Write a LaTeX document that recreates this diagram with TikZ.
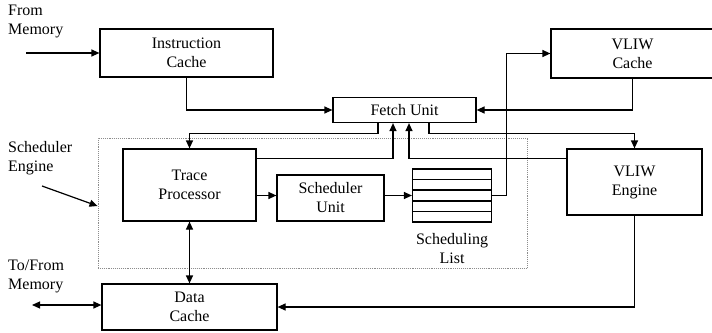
\documentclass[tikz,border=0pt]{standalone}
\usepackage{fontspec}
\setmainfont{Liberation Serif}
\usetikzlibrary{positioning, arrows.meta, calc}

\begin{document}
\begin{tikzpicture}[
    x=1pt, y=-1pt,
    every node/.style={font=\fontsize{16}{19}\selectfont},
    unitbox/.style={
        rectangle,
        draw=black,
        line width=1.2pt,
        align=center,
        inner sep=0pt
    },
    listbox/.style={
        rectangle,
        draw=black,
        line width=1.2pt,
        minimum width=79pt,
        minimum height=53pt,
        inner sep=0pt
    },
    enginebox/.style={
        rectangle,
        draw=black!45,
        densely dotted,
        line width=0.9pt,
        inner sep=0pt
    },
    lbl/.style={
        align=left,
        inner sep=0pt,
        anchor=north west
    },
    arrow/.style={-{Triangle[length=8pt,width=7pt]}, line width=1.2pt},
    dblarrow/.style={{Triangle[length=8pt,width=7pt]}-{Triangle[length=8pt,width=7pt]}, line width=1.2pt}
]

\useasboundingbox (0,0) rectangle (712,332);

\node[enginebox, minimum width=429pt, minimum height=130pt] (sengine) at (312.5,203) {};

\node[unitbox, minimum width=173pt, minimum height=48pt] (icache) at (186.5,53) {Instruction\\Cache};
\node[unitbox, minimum width=143pt, minimum height=25pt] (fetch) at (404.5,110) {Fetch Unit};
\node[unitbox, minimum width=163pt, minimum height=49pt] (vcache) at (632.5,53.5) {VLIW\\Cache};
\node[unitbox, minimum width=133pt, minimum height=72pt] (trace) at (189.5,185) {Trace\\Processor};
\node[unitbox, minimum width=107pt, minimum height=46pt] (sunit) at (330.5,198) {Scheduler\\Unit};
\node[listbox] (slist) at (452,195.5) {};
\node[unitbox, minimum width=135pt, minimum height=66pt] (vengine) at (634.5,182) {VLIW\\Engine};
\node[unitbox, minimum width=175pt, minimum height=46pt] (dcache) at (189.5,307) {Data\\Cache};

\foreach \k in {1,...,4}
    \draw[line width=1.2pt] ($(slist.north west)!\k/5!(slist.south west)$) -- ($(slist.north east)!\k/5!(slist.south east)$);

\node[lbl] (frommemlbl) at (8,5) {From\\Memory};
\node[lbl] (sengilbl) at (8,141) {Scheduler\\Engine};
\node[lbl] (tomemlbl) at (8,260) {To/From\\Memory};
\node[inner sep=0pt, anchor=north, align=center] (slistlbl) at (452,233) {Scheduling\\List};

\coordinate (frommem) at (26,53);
\coordinate (se) at (42,186);
\coordinate (tomem) at (32,305);

\draw[arrow] (frommem) -- (frommem -| icache.west);
\draw[arrow] (icache.south) |- (fetch.west);
\draw[arrow] (vcache.south) |- (fetch.east);
\draw[arrow] (slist.east) -- ++(14,0) |- (vcache.west);
\draw[arrow] ([xshift=-26.5pt]fetch.south) -- ++(0,10) -| (trace.north);
\draw[arrow] ([yshift=-10pt]trace.north east) -| ([xshift=-11.5pt]fetch.south);
\draw[arrow] ([yshift=-10pt]vengine.north west) -| ([xshift=4.5pt]fetch.south);
\draw[arrow] ([xshift=24.5pt]fetch.south) -- ++(0,10) -| (vengine.north);
\draw[arrow] (trace.east |- slist.west) -- (sunit.west |- slist.west);
\draw[arrow] (sunit.east |- slist.west) -- (slist.west);
\draw[dblarrow] (trace.south) -- (dcache.north);
\draw[dblarrow] (tomem) -- (tomem -| dcache.west);
\draw[arrow] (vengine.south) |- (dcache.east);
\draw[arrow] (se) -- ([yshift=-3pt]sengine.west);

\end{tikzpicture}
\end{document}
